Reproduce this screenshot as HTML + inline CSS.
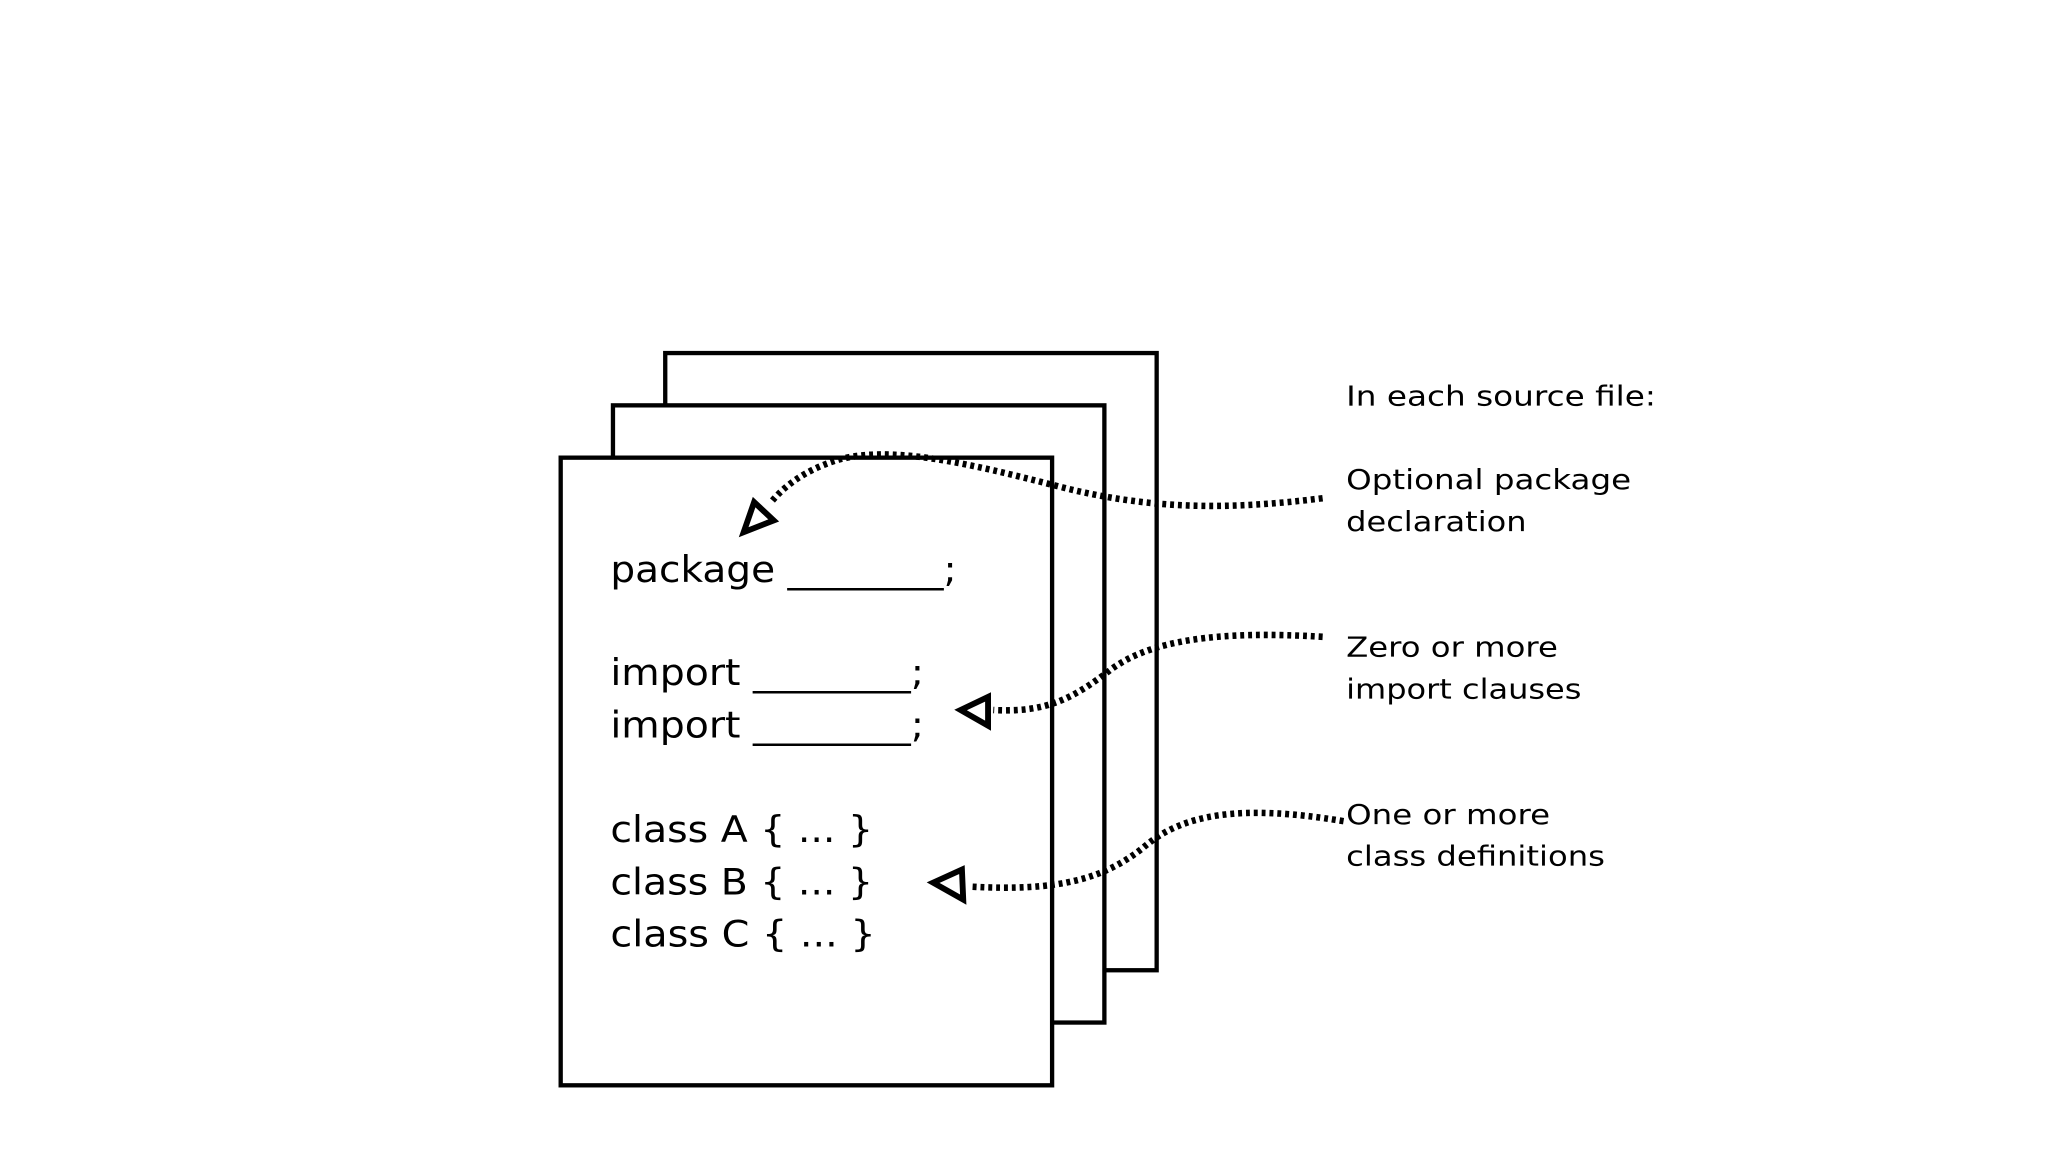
<!DOCTYPE html>
<html><head><meta charset="utf-8"><style>
html,body{margin:0;padding:0;background:#fff;}
svg{display:block;}
</style></head><body>
<svg width="2048" height="1152" viewBox="0 0 1567 881" preserveAspectRatio="none" xmlns="http://www.w3.org/2000/svg">
<rect width="1567" height="881" fill="#fff"/>
<g fill="#fff" stroke="#000" stroke-width="3.3">
<rect x="509" y="270" width="376" height="472"/>
<rect x="469" y="310" width="376" height="472"/>
<rect x="429" y="350" width="376" height="480"/>
</g>
<g font-family="'DejaVu Sans','Liberation Sans',sans-serif" fill="#000">
<g font-size="28">
<text x="467" y="445" textLength="265" lengthAdjust="spacingAndGlyphs">package ________;</text>
<text x="467" y="524" textLength="240" lengthAdjust="spacingAndGlyphs">import ________;</text>
<text x="467" y="564" textLength="240" lengthAdjust="spacingAndGlyphs">import ________;</text>
<text x="467" y="644" textLength="201" lengthAdjust="spacingAndGlyphs">class A { ... }</text>
<text x="467" y="684" textLength="201" lengthAdjust="spacingAndGlyphs">class B { ... }</text>
<text x="467" y="724" textLength="203" lengthAdjust="spacingAndGlyphs">class C { ... }</text>
</g>
<g font-size="21">
<text x="1030" y="310" textLength="237" lengthAdjust="spacingAndGlyphs">In each source file:</text>
<text x="1030" y="374" textLength="218" lengthAdjust="spacingAndGlyphs">Optional package</text>
<text x="1030" y="406" textLength="138" lengthAdjust="spacingAndGlyphs">declaration</text>
<text x="1030" y="502" textLength="162" lengthAdjust="spacingAndGlyphs">Zero or more</text>
<text x="1030" y="534" textLength="180" lengthAdjust="spacingAndGlyphs">import clauses</text>
<text x="1030" y="630" textLength="156" lengthAdjust="spacingAndGlyphs">One or more</text>
<text x="1030" y="662" textLength="198" lengthAdjust="spacingAndGlyphs">class definitions</text>
</g>
</g>
<g fill="none" stroke="#000" stroke-width="5" stroke-dasharray="3 3">
<path d="M1012,381 C940,390 880,390 810,372 C740,354 680,340 640,352 C615,360 600,372 590,384"/>
<path d="M1012,487 C930,482 880,490 850,512 C820,535 800,545 760,543"/>
<path d="M1028,628 C950,615 905,622 875,648 C845,672 810,682 742,678"/>
</g>
<g fill="#fff" stroke="#000" stroke-width="4.5" stroke-linejoin="miter">
<polygon points="569,407 577,384 592,398"/>
<polygon points="735,543 756,533 756,555"/>
<polygon points="714,675 736,665 737,688"/>
</g>
</svg>
</body></html>
